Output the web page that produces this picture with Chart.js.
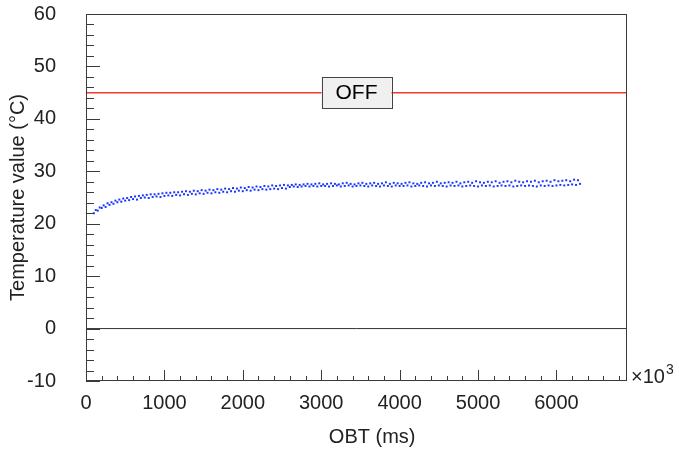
<!DOCTYPE html>
<html>
<head>
<meta charset="utf-8">
<script src="https://cdn.jsdelivr.net/npm/chart.js"></script>
<style>
  html, body { margin: 0; padding: 0; background: #fff; }
  #wrap { width: 679px; height: 452px; }
</style>
</head>
<body>
<div id="wrap"><canvas id="chart" width="679" height="452"></canvas></div>
<script>
// OBT sampling (ms, x10^3 on the axis): lower row starts at 100, upper at 125, every 50
const OBT_STEP = 50;
const LOW_START = 100;
const HIGH_START = 125;

// temperature readings, lower row of the band
const tempLow = [
    22.0, 22.5, 23.0, 23.2, 23.6, 23.8, 24.1, 24.2, 24.4, 24.5,
    24.7, 24.6, 24.9, 25.0, 24.9, 25.1, 25.2, 25.1, 25.3, 25.4,
    25.3, 25.5, 25.4, 25.6, 25.5, 25.7, 25.6, 25.8, 25.7, 25.9,
    25.8, 26.0, 25.9, 26.1, 26.0, 26.2, 26.1, 26.3, 26.2, 26.4,
    26.3, 26.5, 26.4, 26.6, 26.5, 26.6, 26.7, 26.6, 26.8, 26.7,
    27.0, 27.1, 27.0, 27.1, 27.2, 27.1, 27.2, 27.1, 27.2, 27.2,
    27.1, 27.2, 27.3, 27.1, 27.2, 27.3, 27.1, 27.2, 27.3, 27.2,
    27.1, 27.3, 27.2, 27.1, 27.3, 27.2, 27.1, 27.3, 27.2, 27.2,
    27.3, 27.1, 27.2, 27.3, 27.2, 27.1, 27.3, 27.2, 27.3, 27.2,
    27.1, 27.3, 27.2, 27.3, 27.1, 27.2, 27.3, 27.2, 27.1, 27.3,
    27.2, 27.3, 27.1, 27.2, 27.3, 27.2, 27.3, 27.1, 27.2, 27.3,
    27.2, 27.3, 27.2, 27.1, 27.3, 27.2, 27.3, 27.2, 27.3, 27.4,
    27.3, 27.4, 27.5, 27.4, 27.6
];

// temperature readings, upper row of the band
const tempHigh = [
    22.6, 23.1, 23.5, 23.9, 24.1, 24.4, 24.6, 24.8, 24.9, 25.1,
    25.2, 25.3, 25.4, 25.5, 25.6, 25.6, 25.7, 25.8, 25.9, 25.9,
    26.0, 26.0, 26.1, 26.2, 26.1, 26.3, 26.2, 26.4, 26.3, 26.5,
    26.4, 26.6, 26.5, 26.7, 26.6, 26.8, 26.7, 26.9, 26.8, 27.0,
    26.9, 27.1, 27.0, 27.2, 27.1, 27.3, 27.2, 27.3, 27.4, 27.3,
    27.4, 27.5, 27.4, 27.5, 27.6, 27.5, 27.6, 27.7, 27.5, 27.6,
    27.7, 27.6, 27.5, 27.7, 27.8, 27.6, 27.5, 27.7, 27.8, 27.6,
    27.7, 27.8, 27.6, 27.7, 27.9, 27.6, 27.8, 27.7, 27.6, 27.8,
    27.9, 27.7, 27.6, 27.8, 27.9, 27.7, 27.8, 28.0, 27.7, 27.8,
    27.9, 27.8, 28.0, 27.7, 27.9, 28.0, 27.8, 28.1, 27.9, 27.8,
    28.0, 27.9, 28.1, 27.8, 28.0, 28.1, 27.9, 28.2, 28.0, 27.9,
    28.1, 28.0, 28.2, 27.9, 28.1, 28.2, 28.0, 28.3, 28.1, 28.2,
    28.3, 28.1, 28.4, 28.3
];

// OFF threshold line
const offLevel = 45;
const offLabel = 'OFF';
const offLabelAt = 3450;

// axes
const xMin = 0, xMax = 6900, xMajor = 1000, xMinor = 200;
const yMin = -10, yMax = 60, yMajor = 10, yMinor = 2;
const xTickLabels = [0, 1000, 2000, 3000, 4000, 5000, 6000];
const yTickLabels = [-10, 0, 10, 20, 30, 40, 50, 60];
const xTitle = 'OBT (ms)';
const yTitle = 'Temperature value (\u00b0C)';

const lowPoints = tempLow.map((t, i) => ({ x: LOW_START + i * OBT_STEP, y: t }));
const highPoints = tempHigh.map((t, i) => ({ x: HIGH_START + i * OBT_STEP, y: t }));

const FONT = 'Liberation Sans, Arial, Helvetica, sans-serif';

// ROOT-like frame: box, inward ticks, OFF label, x title and x10^3 multiplier
const framePlugin = {
    id: 'frame',
    afterDraw(chart) {
        const ctx = chart.ctx;
        const area = chart.chartArea;
        const xs = chart.scales.x;
        const ys = chart.scales.y;
        ctx.save();

        ctx.strokeStyle = '#3a3a3a';
        ctx.lineWidth = 1;
        ctx.strokeRect(area.left + 0.5, area.top + 0.5, area.right - area.left - 1, area.bottom - area.top - 1);

        ctx.beginPath();
        for (let v = xMin; v <= xMax; v += xMinor) {
            const px = Math.round(xs.getPixelForValue(v)) + 0.5;
            const len = (v % xMajor === 0) ? 11 : 5;
            ctx.moveTo(px, area.bottom);
            ctx.lineTo(px, area.bottom - len);
        }
        for (let v = yMin; v <= yMax; v += yMinor) {
            const py = Math.round(ys.getPixelForValue(v)) + 0.5;
            const len = (v % yMajor === 0) ? 14 : 8;
            ctx.moveTo(area.left, py);
            ctx.lineTo(area.left + len, py);
        }
        ctx.stroke();

        // OFF box on the threshold line
        const cx = xs.getPixelForValue(offLabelAt);
        const cy = ys.getPixelForValue(offLevel);
        const bw = 70, bh = 31;
        ctx.fillStyle = '#f0f0f0';
        ctx.fillRect(cx - bw / 2, cy - bh / 2, bw, bh);
        ctx.strokeStyle = '#444';
        ctx.strokeRect(Math.round(cx - bw / 2) + 0.5, Math.round(cy - bh / 2) + 0.5, bw, bh);
        ctx.fillStyle = '#000';
        ctx.font = '21px ' + FONT;
        ctx.textAlign = 'center';
        ctx.textBaseline = 'middle';
        ctx.fillText(offLabel, cx, cy + 1);

        // x axis title, slightly right of centre as in the original
        ctx.fillStyle = '#222';
        ctx.font = '20px ' + FONT;
        ctx.textBaseline = 'alphabetic';
        ctx.fillText(xTitle, xs.getPixelForValue(3650), 443);

        // x10^3
        ctx.textAlign = 'left';
        ctx.font = '20px ' + FONT;
        ctx.fillText('\u00d710', area.right + 4, area.bottom + 2);
        const w = ctx.measureText('\u00d710').width;
        ctx.font = '14px ' + FONT;
        ctx.fillText('3', area.right + 4 + w + 1, area.bottom - 7);
        ctx.restore();
    }
};

new Chart(document.getElementById('chart'), {
    type: 'scatter',
    data: {
        datasets: [
            {
                label: 'zero',
                type: 'line',
                data: [{ x: xMin, y: 0 }, { x: xMax, y: 0 }],
                borderColor: '#333',
                borderWidth: 1,
                pointRadius: 0
            },
            {
                label: 'off',
                type: 'line',
                data: [{ x: xMin, y: offLevel }, { x: xMax, y: offLevel }],
                borderColor: '#f23a2a',
                borderWidth: 1.5,
                pointRadius: 0
            },
            {
                label: 'low',
                data: lowPoints,
                pointStyle: 'rect',
                pointRadius: 1.4,
                borderWidth: 0,
                backgroundColor: '#1a35ff'
            },
            {
                label: 'high',
                data: highPoints,
                pointStyle: 'rect',
                pointRadius: 1.4,
                borderWidth: 0,
                backgroundColor: '#1a35ff'
            }
        ]
    },
    options: {
        responsive: false,
        animation: false,
        events: [],
        layout: { padding: { top: 14, right: 52, left: 0, bottom: 0 } },
        plugins: { legend: { display: false }, tooltip: { enabled: false } },
        scales: {
            x: {
                type: 'linear',
                min: xMin,
                max: xMax,
                grid: { display: false, drawTicks: false },
                border: { display: false },
                afterBuildTicks(scale) { scale.ticks = xTickLabels.map(v => ({ value: v })); },
                afterFit(scale) { scale.height = 71; scale.paddingLeft = 0; scale.paddingRight = 0; },
                ticks: {
                    autoSkip: false,
                    maxRotation: 0,
                    padding: 10,
                    color: '#222',
                    font: { family: FONT, size: 20 },
                    callback: v => String(v)
                }
            },
            y: {
                type: 'linear',
                min: yMin,
                max: yMax,
                grid: { display: false, drawTicks: false },
                border: { display: false },
                afterBuildTicks(scale) { scale.ticks = yTickLabels.map(v => ({ value: v })); },
                afterFit(scale) { scale.width = 86; scale.paddingTop = 0; scale.paddingBottom = 0; },
                ticks: {
                    autoSkip: false,
                    padding: 30,
                    color: '#222',
                    font: { family: FONT, size: 20 },
                    callback: v => String(v)
                },
                title: {
                    display: true,
                    text: yTitle,
                    color: '#222',
                    font: { family: FONT, size: 20 },
                    padding: { top: 6, bottom: 0 }
                }
            }
        }
    },
    plugins: [framePlugin]
});
</script>
</body>
</html>
